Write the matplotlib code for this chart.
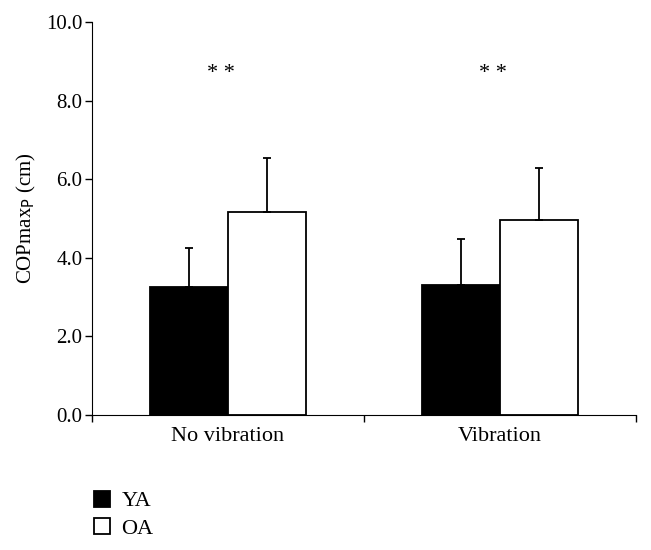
import numpy as np
import matplotlib.pyplot as plt

plt.rcParams['font.family'] = ['Liberation Serif', 'DejaVu Serif']

conditions = ["No vibration", "Vibration"]
ya_mean = [3.25, 3.32]
ya_sd = [0.99, 1.17]
oa_mean = [5.16, 4.96]
oa_sd = [1.38, 1.33]
sig_labels = ["* *", "* *"]
sig_y = [8.7, 8.7]

fig = plt.figure(figsize=(6.51, 5.5), dpi=100)
ax = fig.add_axes([0.1413, 0.2455, 0.8357, 0.7145])

x = np.arange(len(conditions))
w = 0.287
err_kw = dict(capsize=3, elinewidth=1.3, capthick=1.3, ecolor='black')
b1 = ax.bar(x - w / 2, ya_mean, w, color='black', edgecolor='black', linewidth=1.3, label='YA')
ax.errorbar(x - w / 2, ya_mean, yerr=[np.zeros(2), ya_sd], fmt='none', **err_kw)
b2 = ax.bar(x + w / 2, oa_mean, w, color='white', edgecolor='black', linewidth=1.3, label='OA')
ax.errorbar(x + w / 2, oa_mean, yerr=[np.zeros(2), oa_sd], fmt='none', **err_kw)

for xi, s, yy in zip(x, sig_labels, sig_y):
    ax.text(xi - 0.025, yy, s, ha='center', va='center', fontsize=16)

ax.set_xlim(-0.5, 1.5)
ax.set_ylim(0, 10)
ax.set_yticks(np.arange(0, 10.1, 2))
ax.set_yticklabels([f"{v:.1f}" for v in np.arange(0, 10.1, 2)])
ax.set_xticks([-0.5, 0.5, 1.5])
ax.set_xticklabels([])
ax.set_xticks(x, minor=True)
ax.set_xticklabels(conditions, minor=True)
ax.tick_params(axis='x', which='minor', length=0, labelsize=16, pad=9)
ax.tick_params(axis='x', which='major', length=5, width=1, direction='out')
ax.tick_params(axis='y', length=5, width=1, labelsize=15, pad=2)
ax.spines['top'].set_visible(False)
ax.spines['right'].set_visible(False)
ax.set_ylabel(r"COPmax$_{\mathrm{P}}$ (cm)", fontsize=15, labelpad=6)

fig.legend(handles=[b1, b2], loc='upper left', bbox_to_anchor=(0.131, 0.124),
           frameon=False, fontsize=16, handlelength=0.73, handleheight=0.73,
           handletextpad=0.5, labelspacing=0.3, borderaxespad=0)

fig.savefig("out.png", dpi=100)
